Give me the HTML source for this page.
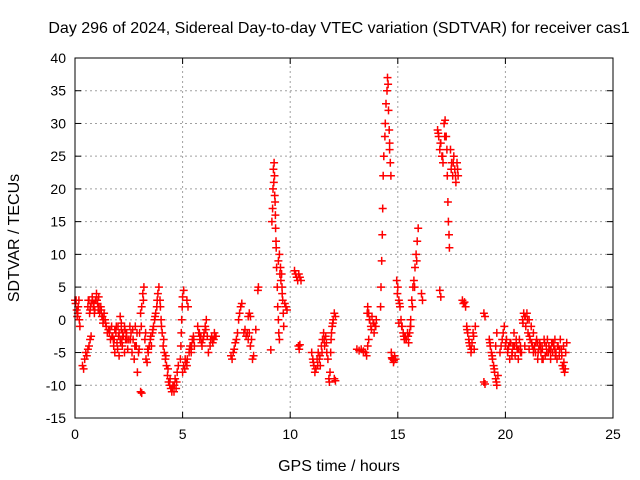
<!DOCTYPE html>
<html><head><meta charset="utf-8"><style>
html,body{margin:0;padding:0;background:#fff;}
svg{display:block;font-family:"Liberation Sans",sans-serif;}
</style></head><body>
<svg id="chart" width="640" height="480" viewBox="0 0 640 480" xmlns="http://www.w3.org/2000/svg">
<rect width="640" height="480" fill="#fff"/>
<text x="339" y="33" font-size="16" text-anchor="middle">Day 296 of 2024, Sidereal Day-to-day VTEC variation (SDTVAR) for receiver cas1</text>
<text transform="translate(19,238) rotate(-90)" font-size="16" text-anchor="middle">SDTVAR / TECUs</text>
<text x="339" y="471" font-size="16" text-anchor="middle">GPS time / hours</text>
<g id="grid"></g><g id="ticks"></g><g id="marks"></g>
<rect x="75" y="58" width="538" height="360" fill="none" stroke="#000" stroke-width="1"/>
</svg>
<script>
const xTicks = [0,5,10,15,20,25];
const yTicks = [-15,-10,-5,0,5,10,15,20,25,30,35,40];
const hours = [
0,0.03,0.05,0.08,0.1,0.13,0.15,0.18,0.2,0.23,
0.35,0.4,0.45,0.5,0.55,0.6,0.65,0.7,0.75,
0.6,0.65,0.7,0.75,0.8,0.85,0.9,0.95,1.0,1.05,1.1,1.15,1.2,1.25,1.3,1.35,1.4,1.45,1.5,1.55,
1.6,1.65,1.7,1.75,1.8,1.85,1.9,1.95,2.0,2.05,2.1,2.15,2.2,2.25,2.3,2.35,2.4,2.45,2.5,1.85,2.05,2.3,2.1,2.15,
2.55,2.6,2.65,2.7,2.75,2.8,2.85,2.9,2.95,3.0,3.05,3.1,3.15,3.2,3.05,3.1,3.25,3.3,3.35,3.4,
3.45,3.5,3.55,3.6,3.65,3.7,3.75,3.8,3.85,3.9,3.95,
3.97,4.0,4.05,4.1,4.15,4.2,4.25,4.3,4.35,4.4,4.45,4.5,4.55,4.6,4.65,4.7,4.75,4.8,
4.9,4.92,4.94,4.96,4.98,5.0,5.05,5.2,5.25,
5.0,5.05,5.1,5.15,5.2,5.3,5.35,5.4,5.45,5.5,5.55,
5.7,5.75,5.8,5.85,5.9,5.95,6.0,6.05,6.1,6.15,6.2,6.3,6.35,6.4,6.45,6.5,6.55,
7.25,7.3,7.35,7.4,7.45,7.5,7.55,7.6,7.65,7.7,7.75,
7.85,7.9,7.95,8.0,8.05,8.1,8.15,8.2,8.25,8.3,8.05,8.1,8.15,8.4,8.5,8.52,
9.1,9.15,9.18,9.2,9.22,9.25,9.27,9.3,9.32,9.35,9.37,9.4,9.42,9.45,9.47,9.5,
9.45,9.5,9.55,9.6,9.62,9.65,9.68,9.7,9.75,9.8,9.85,
10.2,10.25,10.3,10.35,10.4,10.45,10.5,10.38,10.42,10.45,
11.0,11.05,11.1,11.15,11.2,11.25,11.3,11.35,11.4,11.45,11.5,11.55,11.6,11.65,11.7,11.75,
11.8,11.82,11.85,11.88,11.9,11.95,12.0,12.05,12.1,12.05,12.1,
13.1,13.2,13.3,13.4,13.5,13.55,13.6,13.65,
13.6,13.65,13.7,13.75,13.8,13.85,13.9,13.95,14.0,
14.2,14.22,14.25,14.28,14.3,14.32,14.35,14.4,14.42,14.45,14.5,14.52,14.55,14.57,14.6,14.62,14.65,14.68,
14.7,14.75,14.8,14.85,14.9,
14.95,15.0,15.05,15.1,15.15,15.2,15.25,15.3,15.35,15.4,15.45,15.5,15.05,
15.55,15.6,15.65,15.7,15.75,15.8,15.85,15.9,15.95,15.6,16.1,16.15,
16.85,16.9,16.95,17.0,17.05,17.1,17.15,17.2,
17.25,17.28,17.3,17.33,17.35,17.38,17.4,
17.45,17.5,17.55,17.6,17.65,17.7,17.75,17.8,16.95,17.0,
18.0,18.05,18.1,18.15,
18.2,18.25,18.3,18.35,18.4,18.45,18.5,18.55,18.6,
19.0,19.05,19.0,19.05,
19.25,19.3,19.35,19.4,19.45,19.5,19.55,19.6,19.65,19.55,19.6,
19.75,19.8,19.85,19.9,19.95,20.0,
20.05,20.1,20.15,20.2,20.25,20.3,20.35,20.4,20.45,20.5,20.55,20.6,20.65,20.7,20.75,
20.8,20.85,20.9,20.95,21.0,21.05,21.1,21.15,21.2,21.25,21.3,
21.35,21.4,21.45,21.5,21.55,21.6,21.65,21.7,21.75,21.8,21.85,21.9,21.95,22.0,22.05,22.1,22.15,22.2,22.25,22.3,22.35,22.4,22.45,22.5,22.55,22.6,22.65,22.7,22.75,22.8,22.85,
20.1,20.3,20.5,20.7,20.9,21.1,21.3,21.5,21.7,21.9,22.1,22.3,22.5,22.7,
0.62,0.72,0.82,0.92,1.02,1.12,1.22,1.32,1.42,0.68,0.88,1.08,1.28,
1.62,1.72,1.82,1.92,2.02,2.12,2.22,2.32,2.42,1.78,1.98,2.18,2.38,
2.58,2.68,2.78,2.88,2.98,3.08,3.18,3.28,3.38,
3.52,3.62,3.72,3.82,4.02,4.12,4.22,4.32,4.42,4.52,4.62,4.72,
5.12,5.22,5.32,5.42,5.52,5.78,5.88,5.98,6.08,6.28,6.38,6.48,
9.24,9.28,9.31,9.34,9.52,9.57,9.63,
11.08,11.18,11.28,11.38,11.48,11.58,11.68,11.92,11.98,
13.58,13.68,13.78,13.88,13.98,14.62,14.72,14.82,
14.98,15.08,15.18,15.28,15.38,15.48,15.58,15.68,15.78,15.88,
16.88,16.98,17.08,17.18,17.48,17.58,17.68,17.78,
18.22,18.32,18.42,18.52,19.28,19.38,19.48,19.58,
20.02,20.12,20.22,20.32,20.42,20.52,20.62,20.72,20.82,20.92,21.02,21.12,21.22,21.32,21.42,21.52,21.62,21.72,21.82,21.92,22.02,22.12,22.22,22.32,22.42,22.52,22.62,22.72,22.78
];
const sdtvar = [
3,2.5,3,1.5,0.5,1,2,3,0,-1,
-7,-7.5,-6,-5,-5.5,-4.5,-4,-3,-2.5,
2,3,1.5,2.5,3.5,2,1,3,4,2.5,3.5,1,2,0.5,-0.5,1,0,-1,-2,-1.5,
-2,-3,-1,-2.5,-4,-1.5,-2,-3.5,-1,-2,-3,-1.5,-4,-2.5,-1,-3,-2,-4.5,-3,-5,-5.5,-5,0.5,-0.5,
-1,-2,-5,-3,-6,-1,-4,-8,-5,-2,1,2,4,5,-11,-11.2,-3,-6,-6.5,-5,
-4,-3,-4,-2,-1,0,1,2,4,5,3,
2,0,-2,-4,-5,-6,-7,-8.5,-9.5,-10,-10.5,-11,-10,-11,-9,-10.5,-8,-7,
-6,-4,-2,0,2,3.5,4.5,3,2,
-8,-7,-7.5,-6.5,-7,-5,-4,-5,-3,-2.5,-4,
-1,-2,-3,-2.5,-4,-3,-2,-1,0,-2.5,-5,-3,-2.5,-3.5,-3,-2.5,-2.5,
-5.5,-6,-5,-4.5,-3.5,-3,-2,0,1,2,2.5,
-2,-1.5,-2.5,-2,-3,-2,-4,-3,-6,-5.5,0.5,1,0.5,-1.5,4.5,5,
-4.6,15,17,20,23,24,22,18,14,11,8,5,2,0,-2,-3,
9,10,8,7,5,3,1,-1,2.5,2,1.5,
7.5,7,6.5,6,7,6.5,6,-4,-4.5,-3.8,
-5,-6,-7,-8,-7.5,-6,-5,-6,-7,-4,-3,-2,-4,-2.5,-5,-6,
-9,-9.5,-8,-5,-3,-1,0,1,0.5,-9,-9.3,
-4.5,-4.7,-4.5,-4.8,-5,-5.5,-4,-3,
2,1,0,-1,0.5,-0.5,-2,-1,0,
2,5,9,13,17,22,25,28,30,33,35,37,36,32,29,26,24,22,
-5,-6,-6.5,-5.5,-6,
6,5,3,2,0,-1,-2,-3,-2.5,-3,-2,-3.5,-0.5,
-2,0,3,5,6,8,10,12,14,-1,4,3,
29,28,26,27,25,24,30,30.5,
28,26,22,18,15,13,11,
26,24,22,25,23,21,24,22,4.5,3.5,
3,2.5,2.7,2,
-1,-2,-3,-4,-5,-3.5,-2,-4.5,-1,
1,0.5,-9.5,-9.8,
-3,-4,-5,-6,-7,-8,-9,-10,-8.5,-4,-2,
-5,-4,-3,-2,-1,-4,
-3,-5,-4,-6,-3.5,-5,-4,-2,-5.5,-3,-4.5,-6,-3,-4,-5,
0,1,0.5,-1,1,-2,0,-3,-1,-4,-2,
-4,-5,-3,-6,-4.5,-3.5,-5,-4,-6,-3,-5.5,-4,-3,-5,-4.5,-6,-3.5,-5,-4,-3,-5,-6,-4,-5.5,-3,-4.5,-7,-7.5,-8,-5,-3.5,
-4.5,-5.5,-3.5,-5,-4,-4.5,-5,-3.5,-6,-4,-5,-4.5,-5.5,-4,
3,2,3,1.5,3,2,1.5,0,-0.5,1,2.5,1.5,0.5,
-1.5,-2.5,-3,-1,-2.5,-3.5,-2,-1.5,-3,-3,-4.5,-3,-2,
-3,-1.5,-4,-2,-4.5,-1,3,-2,-4.5,
-2.5,-1.5,0.5,3,-1,-3,-5.5,-7.5,-9,-10.5,-10,-9.5,
-6,-6,-4.5,-4,-3,-2,-3.5,-2.5,-1.5,-4,-3,-2,
21,19,16,12,7,6,4,
-6.5,-7.5,-7,-5.5,-5,-3,-3.5,-2,-0.5,
1,0,-1.5,-0.5,-1,27,-5.8,-6.2,
4,2.5,-1,-2.5,-3,-2.5,-1,2,5,9,
28.5,27,25,28,23,24,22,23,
-1.5,-3.5,-4.5,-2.5,-3.5,-5.5,-7.5,-9.5,
-3.5,-4.5,-3.5,-5,-4,-4,-4.5,-5,-0.5,0.5,0,-2.5,-3.5,-4.5,-3.5,-5,-4,-4.5,-3.5,-5,-4,-4.5,-3.5,-5.5,-4,-4.5,-5.5,-6.5,-7.5
];
const X0=75,X1=613,Y0=418,Y1=58;
function xs(t){return X0+(t-0)/(25-0)*(X1-X0);}
function ys(v){return Y0-(v-(-15))/(40-(-15))*(Y0-Y1);}
const NS='http://www.w3.org/2000/svg';
const grid=document.getElementById('grid'),ticks=document.getElementById('ticks'),marks=document.getElementById('marks');
function mk(tag,attrs,parent){const e=document.createElementNS(NS,tag);for(const k in attrs)e.setAttribute(k,attrs[k]);parent.appendChild(e);return e;}
xTicks.forEach(t=>{
  const x=xs(t);
  if(t>0&&t<25){const g=mk('line',{x1:x,y1:Y0,x2:x,y2:Y1,stroke:'#a0a0a0','stroke-dasharray':'2,3'},grid);
  
  }
  mk('line',{x1:x,y1:Y0,x2:x,y2:Y0-6,stroke:'#000'},ticks);
  mk('line',{x1:x,y1:Y1,x2:x,y2:Y1+6,stroke:'#000'},ticks);
  const l=mk('text',{x:x,y:Y0+21,'font-size':'14','text-anchor':'middle'},ticks);
  l.textContent=t;
  
  
});
yTicks.forEach(v=>{
  const y=ys(v);
  if(v>-15&&v<40){const g=mk('line',{x1:X0,y1:y,x2:X1,y2:y,stroke:'#a0a0a0','stroke-dasharray':'2,3'},grid);
  
  }
  mk('line',{x1:X0,y1:y,x2:X0+6,y2:y,stroke:'#000'},ticks);
  mk('line',{x1:X1,y1:y,x2:X1-6,y2:y,stroke:'#000'},ticks);
  const l=mk('text',{x:X0-9,y:y+5,'font-size':'14','text-anchor':'end'},ticks);
  l.textContent=v;
  
  
});
let d='';
for(let i=0;i<hours.length;i++){
  const x=xs(hours[i]),y=ys(sdtvar[i]);
  d+=`M${(x-4).toFixed(1)} ${y.toFixed(1)}h8M${x.toFixed(1)} ${(y-4).toFixed(1)}v8`;
}
const p=mk('path',{d:d,stroke:'#ff0000','stroke-width':'1.5',fill:'none'},marks);


</script>
</body></html>
